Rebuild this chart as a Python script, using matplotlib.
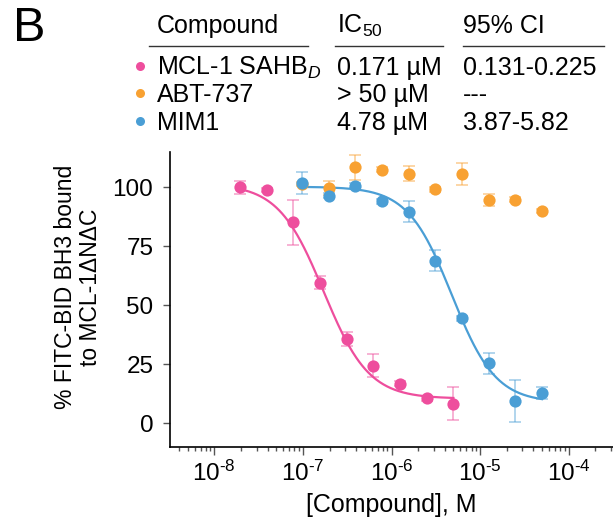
import numpy as np
import matplotlib
matplotlib.use("Agg")
import matplotlib.pyplot as plt
from matplotlib.ticker import LogLocator, NullFormatter, FuncFormatter

plt.rcParams['font.family'] = ['Liberation Sans', 'DejaVu Sans']
plt.rcParams['mathtext.fontset'] = 'custom'
plt.rcParams['mathtext.rm'] = 'Liberation Sans'
plt.rcParams['mathtext.it'] = 'Liberation Sans:italic'
plt.rcParams['mathtext.default'] = 'regular'
plt.rcParams['axes.unicode_minus'] = False

# ---- data (concentrations in µM, signal in % bound) ----
compounds = ['MCL-1 SAHB$_{\\mathit{D}}$', 'ABT-737', 'MIM1']
ic50_text = ['0.171 µM', '> 50 µM', '4.78 µM']
ci_text = ['0.131-0.225', '---', '3.87-5.82']

conc_sahb = [0.0195, 0.039, 0.078, 0.156, 0.3125, 0.625, 1.25, 2.5, 5.0]
sahb_mean = [100.0, 98.9, 85.2, 59.6, 35.9, 24.5, 16.9, 10.6, 8.4]
sahb_err = [2.7, 1.0, 9.4, 2.7, 3.0, 4.9, 1.0, 1.0, 7.0]

conc_small = [0.0977, 0.195, 0.39, 0.78, 1.5625, 3.125, 6.25, 12.5, 25.0, 50.0]
abt_mean = [101.5, 99.6, 108.5, 107.5, 105.8, 99.2, 105.7, 94.7, 94.8, 90.0]
abt_err = [1.0, 3.0, 5.2, 1.0, 3.1, 1.0, 4.8, 2.7, 1.0, 1.0]
mim_mean = [101.8, 96.5, 100.7, 94.1, 89.7, 68.9, 44.6, 25.4, 9.6, 12.9]
mim_err = [4.7, 1.0, 1.0, 1.0, 4.4, 4.4, 1.0, 4.5, 9.0, 2.6]

# four-parameter logistic fits: top, bottom, IC50 (µM), Hill slope
sahb_fit = [101.5, 10.5, 0.171, 1.7]
mim_fit = [100.3, 8.8, 4.78, 1.75]

colors = ['#EE4E9D', '#F8A132', '#4A9ED5']


def logistic(x, top, bottom, ic50, hill):
    return bottom + (top - bottom) / (1.0 + (x / ic50) ** hill)


W, H = 613, 521
fig = plt.figure(figsize=(W / 100, H / 100), dpi=100)

ax = fig.add_axes([170 / W, 1 - 447 / H, (W - 170) / W, (447 - 152) / H])
ax.set_xscale('log')
ax.set_xlim(10 ** -8.5, 10 ** -3.5)
ax.set_ylim(-10, 115)

M = 1e-6  # µM -> M

def series(conc, mean, err, color, fit=None):
    x = np.array(conc) * M
    if fit is not None:
        xx = np.logspace(np.log10(conc[0]), np.log10(conc[-1]), 300)
        ax.plot(xx * M, logistic(xx, *fit), color=color, lw=1.6, zorder=2)
    ax.errorbar(x, mean, yerr=err, fmt='none', ecolor=color, alpha=0.5,
                elinewidth=1.2, capsize=4.5, capthick=1.2, zorder=2)
    ax.plot(x, mean, 'o', color=color, ms=8.8, mec='none', zorder=3)

series(conc_small, abt_mean, abt_err, colors[1])
series(conc_sahb, sahb_mean, sahb_err, colors[0], sahb_fit)
series(conc_small, mim_mean, mim_err, colors[2], mim_fit)

for s in ['top', 'right']:
    ax.spines[s].set_visible(False)
for s in ['left', 'bottom']:
    ax.spines[s].set_linewidth(1.2)


def decade_label(v, pos):
    e = int(round(np.log10(v)))
    return '10$^{\\text{%d}}$' % e


ax.set_yticks([0, 25, 50, 75, 100])
ax.xaxis.set_major_locator(LogLocator(base=10, numticks=20))
ax.xaxis.set_minor_locator(LogLocator(base=10, subs=np.arange(2, 10), numticks=20))
ax.xaxis.set_minor_formatter(NullFormatter())
ax.xaxis.set_major_formatter(FuncFormatter(decade_label))
ax.tick_params(axis='y', labelsize=17.5, length=5, width=1, color='#555555', pad=7)
ax.tick_params(axis='x', which='major', labelsize=17.5, length=6, width=1,
               color='#555555', pad=4)
ax.tick_params(axis='x', which='minor', length=3, width=1, color='#555555')

ax.set_xlabel('[Compound], M', fontsize=18, labelpad=5)
fig.text(78 / W, 1 - 287 / H, '% FITC-BID BH3 bound\nto MCL-1ΔNΔC', rotation=90,
         ha='center', va='center', fontsize=16.5, multialignment='center',
         linespacing=1.15)

# ---- panel letter and summary table ----
fig.text(13 / W, 1 - 41 / H, 'B', fontsize=35, ha='left', va='baseline')

col_x = [157, 337, 463]
fs = 18
head_base = 33
fig.text(col_x[0] / W, 1 - head_base / H, 'Compound', fontsize=fs, va='baseline')
fig.text(col_x[1] / W, 1 - head_base / H, 'IC$_{50}$', fontsize=fs, va='baseline')
fig.text(col_x[2] / W, 1 - head_base / H, '95% CI', fontsize=fs, va='baseline')

for x0, x1 in [(149, 308), (335, 443), (463, 604)]:
    fig.add_artist(plt.Line2D([x0 / W, x1 / W], [1 - 46 / H, 1 - 46 / H],
                              color='#333333', lw=1.0))

row_base = [75, 102, 130]
for i in range(3):
    yb = 1 - row_base[i] / H
    fig.text(col_x[0] / W, yb, compounds[i], fontsize=fs, va='baseline')
    fig.text(col_x[1] / W, yb, ic50_text[i], fontsize=fs, va='baseline')
    fig.text(col_x[2] / W, yb, ci_text[i], fontsize=fs, va='baseline')
    fig.add_artist(plt.Line2D([140 / W], [1 - (row_base[i] - 9) / H], marker='o',
                              ms=6.5, color=colors[i], mec='none'))

fig.savefig('out.png', dpi=100)
